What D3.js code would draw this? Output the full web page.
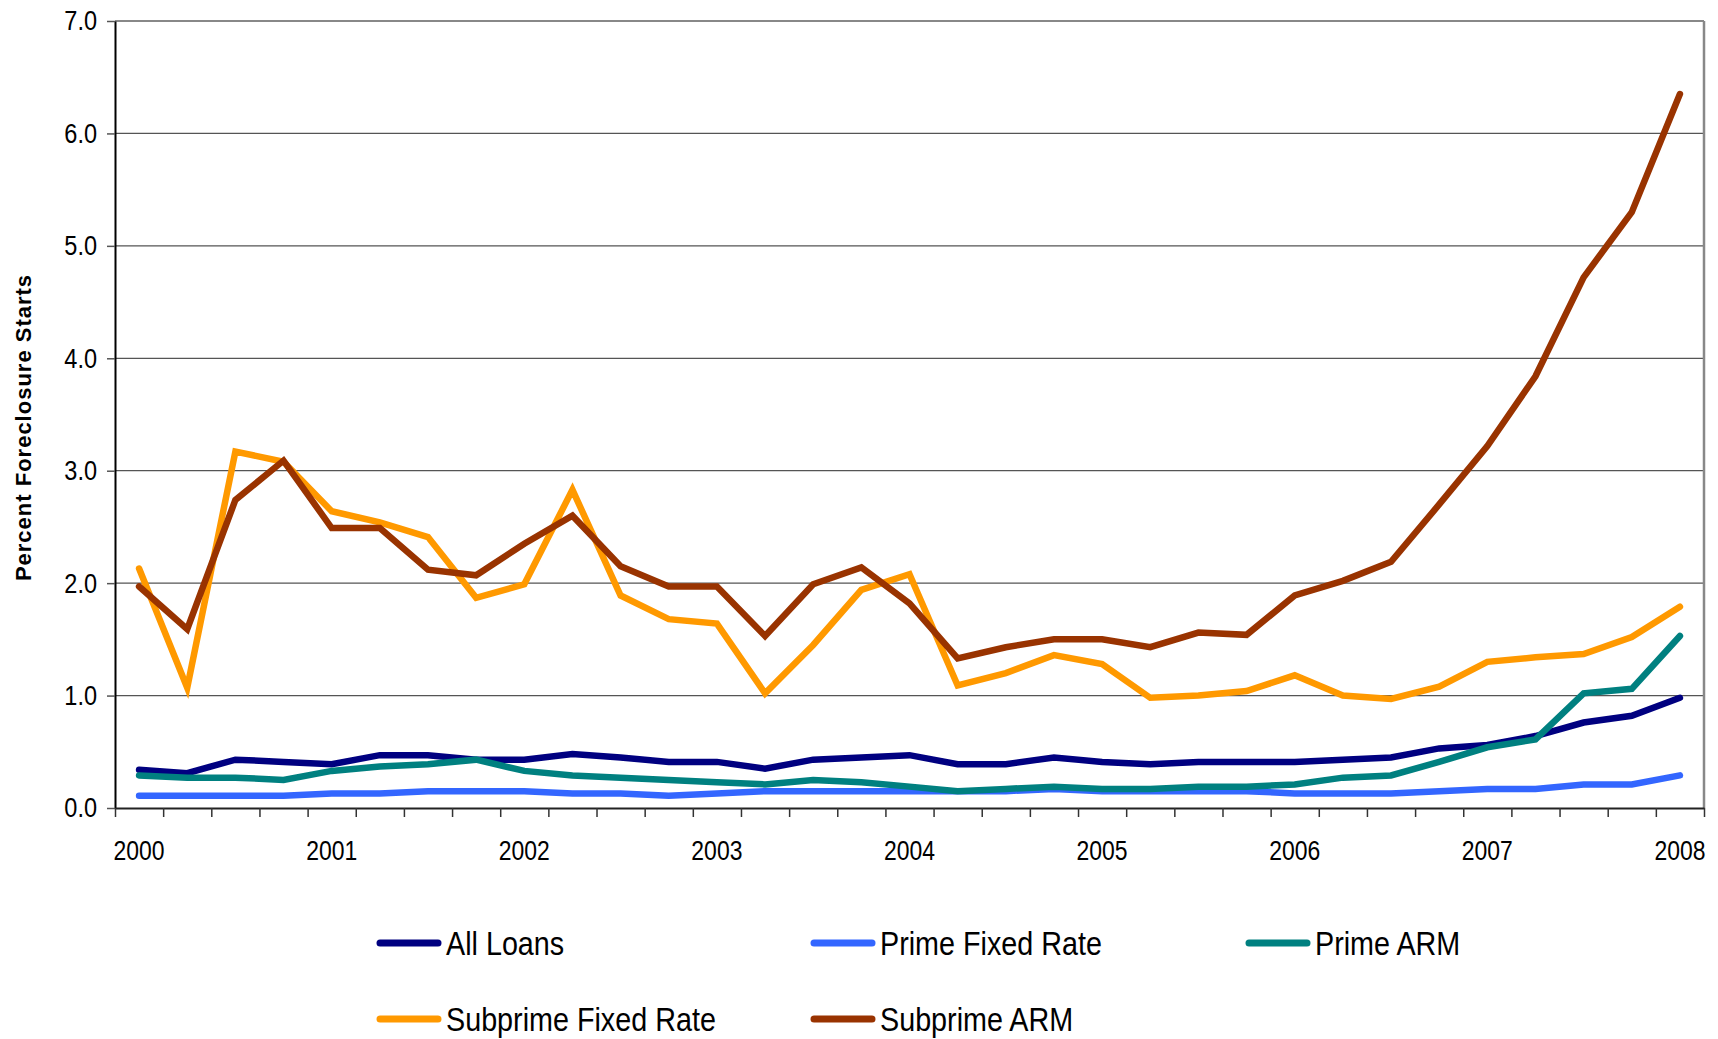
<!DOCTYPE html>
<html>
<head>
<title>Foreclosure Starts</title>
<script src="https://cdn.jsdelivr.net/npm/d3@7"></script>
<style>
  body { margin: 0; background: #fff; }
  .tick-label, .legend text { font-family: "Liberation Sans Narrow", "Arial Narrow", "Liberation Sans", Arial, sans-serif; fill: #000; }
</style>
</head>
<body>
<svg id="chart"></svg>
<script>
// quarters 2000Q1 .. 2008Q1
const quarters = d3.range(33).map(i => (2000 + Math.floor(i / 4)) + "Q" + (i % 4 + 1));
const yearLabels = ["2000", "2001", "2002", "2003", "2004", "2005", "2006", "2007", "2008"];
const yTicks = [0, 1, 2, 3, 4, 5, 6, 7];

const allLoans = [0.34, 0.31, 0.43, 0.41, 0.39, 0.47, 0.47, 0.43, 0.43, 0.48, 0.45, 0.41, 0.41, 0.35, 0.43, 0.45, 0.47,
  0.39, 0.39, 0.45, 0.41, 0.39, 0.41, 0.41, 0.41, 0.43, 0.45, 0.53, 0.56, 0.64, 0.76, 0.82, 0.98];
const primeFixed = [0.11, 0.11, 0.11, 0.11, 0.13, 0.13, 0.15, 0.15, 0.15, 0.13, 0.13, 0.11, 0.13, 0.15, 0.15, 0.15, 0.15,
  0.15, 0.15, 0.17, 0.15, 0.15, 0.15, 0.15, 0.13, 0.13, 0.13, 0.15, 0.17, 0.17, 0.21, 0.21, 0.29];
const primeArm = [0.29, 0.27, 0.27, 0.25, 0.33, 0.37, 0.39, 0.43, 0.33, 0.29, 0.27, 0.25, 0.23, 0.21, 0.25, 0.23, 0.19,
  0.15, 0.17, 0.19, 0.17, 0.17, 0.19, 0.19, 0.21, 0.27, 0.29, 0.41, 0.54, 0.61, 1.02, 1.06, 1.53];
const subprimeFixed = [2.13, 1.07, 3.17, 3.08, 2.64, 2.54, 2.41, 1.87, 1.99, 2.83, 1.89, 1.68, 1.64, 1.02, 1.45, 1.94, 2.08,
  1.09, 1.20, 1.36, 1.28, 0.98, 1.00, 1.04, 1.18, 1.00, 0.97, 1.08, 1.30, 1.34, 1.37, 1.52, 1.79];
const subprimeArm = [1.97, 1.59, 2.74, 3.09, 2.49, 2.49, 2.12, 2.07, 2.35, 2.60, 2.15, 1.97, 1.97, 1.53, 1.99, 2.14, 1.82,
  1.33, 1.43, 1.50, 1.50, 1.43, 1.56, 1.54, 1.89, 2.02, 2.19, 2.70, 3.22, 3.84, 4.72, 5.30, 6.35];

const series = [
  {name: "All Loans", values: allLoans, color: "#000080"},
  {name: "Prime Fixed Rate", values: primeFixed, color: "#3366FF"},
  {name: "Prime ARM", values: primeArm, color: "#008080"},
  {name: "Subprime Fixed Rate", values: subprimeFixed, color: "#FF9900"},
  {name: "Subprime ARM", values: subprimeArm, color: "#993300"}
];

const W = 1718, H = 1039;
const margin = {top: 21, right: 14, bottom: 231, left: 115};
const width = W - margin.left - margin.right,
      height = H - margin.top - margin.bottom;

const svg = d3.select("#chart").attr("width", W).attr("height", H)
  .append("g")
  .attr("transform", "translate(" + margin.left + "," + margin.top + ")");

// category boundaries 0..33, points sit in the middle of each slot
const x = d3.scaleLinear().domain([0, quarters.length]).range([0, width]);
const y = d3.scaleLinear().domain([0, 7]).range([height, 0]);

// squeeze text like a narrow font (no narrow face installed)
function narrow(sel, k) {
  sel.each(function() {
    const w = this.getComputedTextLength();
    d3.select(this).attr("textLength", w * k).attr("lengthAdjust", "spacingAndGlyphs");
  });
}

// gridlines
svg.append("g").selectAll("line")
  .data(yTicks.slice(1))
  .join("line")
  .attr("x1", 0).attr("x2", width)
  .attr("y1", d => y(d)).attr("y2", d => y(d))
  .attr("stroke", d => d === 7 ? "#888" : "#555")
  .attr("stroke-width", d => d === 7 ? 2 : 1.2);

// right border
svg.append("line")
  .attr("x1", width).attr("x2", width)
  .attr("y1", 0).attr("y2", height)
  .attr("stroke", "#888").attr("stroke-width", 2.5);

// y axis
const yAxis = svg.append("g")
  .call(d3.axisLeft(y).tickValues(yTicks).tickFormat(d3.format(".1f")).tickSizeInner(8).tickSizeOuter(0).tickPadding(10));
yAxis.select(".domain").attr("stroke", "#000").attr("stroke-width", 2);
yAxis.selectAll(".tick line").attr("stroke", "#555").attr("stroke-width", 1.5);
yAxis.selectAll("text").attr("class", "tick-label").style("font-size", "28px").attr("font-family", null)
  .call(narrow, 0.84);

// x axis: ticks at slot boundaries
const xAxis = svg.append("g")
  .attr("transform", "translate(0," + height + ")")
  .call(d3.axisBottom(x).tickValues(d3.range(quarters.length + 1)).tickFormat("").tickSizeInner(9).tickSizeOuter(0));
xAxis.select(".domain").attr("stroke", "#222").attr("stroke-width", 2);
xAxis.selectAll(".tick line").attr("stroke", "#333").attr("stroke-width", 1.5);

svg.append("g").selectAll("text")
  .data(yearLabels)
  .join("text")
  .attr("class", "tick-label")
  .attr("x", (d, i) => x(i * 4 + 0.5))
  .attr("y", height + 52)
  .attr("text-anchor", "middle")
  .style("font-size", "27px")
  .text(d => d)
  .call(narrow, 0.85);

// y title
svg.append("text")
  .attr("transform", "translate(" + (-84) + "," + (height / 2 + 13) + ") rotate(-90)")
  .attr("text-anchor", "middle")
  .style("font-family", "'Liberation Sans', Arial, sans-serif")
  .style("font-weight", "bold")
  .style("font-size", "22px")
  .style("letter-spacing", "1px")
  .text("Percent Foreclosure Starts");

// lines
const line = d3.line()
  .x((d, i) => x(i + 0.5))
  .y(d => y(d));

svg.append("g").selectAll("path")
  .data(series)
  .join("path")
  .attr("d", d => line(d.values))
  .attr("fill", "none")
  .attr("stroke", d => d.color)
  .attr("stroke-width", 6.5)
  .attr("stroke-linecap", "round")
  .attr("stroke-linejoin", "miter");

// legend
const legendPos = [[380, 943], [814, 943], [1249, 943], [380, 1019], [814, 1019]];
const legend = d3.select("#chart").append("g").attr("class", "legend")
  .selectAll("g")
  .data(series)
  .join("g")
  .attr("transform", (d, i) => "translate(" + legendPos[i][0] + "," + legendPos[i][1] + ")");

legend.append("line")
  .attr("x1", 0).attr("x2", 58)
  .attr("stroke", d => d.color)
  .attr("stroke-width", 7)
  .attr("stroke-linecap", "round");

legend.append("text")
  .attr("x", 66)
  .attr("y", 12)
  .style("font-size", "34px")
  .text(d => d.name)
  .call(narrow, 0.845);
</script>
</body>
</html>
